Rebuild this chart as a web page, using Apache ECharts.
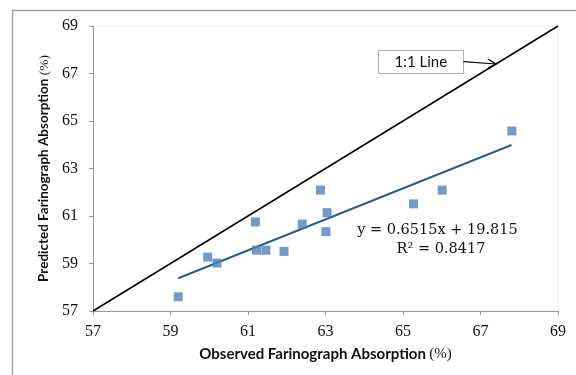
<!DOCTYPE html>
<html>
<head>
<meta charset="utf-8">
<script src="https://cdn.jsdelivr.net/npm/echarts@6/dist/echarts.min.js"></script>
<style>html,body{margin:0;padding:0;background:#fff;}#c{width:576px;height:375px;}</style>
</head>
<body>
<div id="c"></div>
<script>
var observed = [59.20, 59.96, 60.20, 61.19, 61.22, 61.46, 61.93, 62.40, 62.87, 63.04, 63.01, 65.27, 66.01, 67.81];
var predicted = [57.60, 59.27, 59.02, 60.75, 59.56, 59.56, 59.51, 60.66, 62.09, 61.14, 60.34, 61.51, 62.09, 64.58];
var oneToOneX = [57, 69];
var oneToOneY = [57, 69];
var trendX = [59.2, 67.8];
var trendY = [58.38, 63.99];
var axisTicks = [57, 59, 61, 63, 65, 67, 69];
var equationText = 'y = 0.6515x + 19.815';
var r2Text = 'R² = 0.8417';
var lineLabel = '1:1 Line';
var xTitle = 'Observed Farinograph Absorption';
var yTitle = 'Predicted Farinograph Absorption';

function zip(a, b) { return a.map(function (v, i) { return [v, b[i]]; }); }

var chart = echarts.init(document.getElementById('c'), null, {renderer: 'canvas'});
var serif = '"Liberation Serif", "Times New Roman", serif';
var wideSerif = '"DejaVu Serif", serif';
var sans = 'Lato, "Open Sans", sans-serif';

function axisCommon(name, gap, rotate, fs) {
  return {
    type: 'value', min: axisTicks[0], max: axisTicks[axisTicks.length - 1], interval: 2,
    name: '{b|' + name + '} {n|(%)}', nameLocation: 'middle', nameGap: gap, nameRotate: rotate,
    nameTextStyle: {
      rich: {
        b: {fontFamily: sans, fontWeight: 'bold', fontSize: fs, color: '#111'},
        n: {fontFamily: serif, fontSize: fs, color: '#111'}
      }
    },
    axisLine: {show: true, lineStyle: {color: '#9a9a9a', width: 1}},
    axisTick: {show: true, length: 4, lineStyle: {color: '#9a9a9a'}},
    axisLabel: {fontFamily: serif, fontSize: 16, color: '#111'},
    splitLine: {show: false}
  };
}

var xAxis = axisCommon(xTitle, 36, 0, 15);
xAxis.axisLabel.margin = 13;
var yAxis = axisCommon(yTitle, 41, 90, 13.5);
yAxis.axisLabel.margin = 15;

chart.setOption({
  animation: false,
  grid: {left: 93, right: 18, top: 26, bottom: 64, show: true, borderColor: '#f0efe2', borderWidth: 1},
  xAxis: xAxis,
  yAxis: yAxis,
  series: [
    {type: 'line', data: zip(oneToOneX, oneToOneY), symbol: 'none', lineStyle: {color: '#000', width: 1.5}, z: 2},
    {type: 'line', data: zip(trendX, trendY), symbol: 'none', lineStyle: {color: '#2A5B98', width: 2}, z: 3},
    {type: 'scatter', data: zip(observed, predicted), symbol: 'rect', symbolSize: 9, itemStyle: {color: '#4F81BD'}, z: 4}
  ]
});

// annotations placed in data coordinates
var eq = chart.convertToPixel({gridIndex: 0}, [65.89, 60.39]);
var r2 = chart.convertToPixel({gridIndex: 0}, [65.98, 59.61]);
var boxC = chart.convertToPixel({gridIndex: 0}, [65.46, 67.5]);
var arrowEnd = chart.convertToPixel({gridIndex: 0}, [67.4, 67.4]);
var boxW = 85, boxH = 23;
var boxX = boxC[0] - boxW / 2, boxY = boxC[1] - boxH / 2;
var ax0 = boxX + boxW, ay0 = boxC[1];

chart.setOption({
  graphic: [
    {type: 'rect', shape: {x: 12.5, y: 10.5, width: 620, height: 420}, style: {fill: 'none', stroke: '#a3a3a3', lineWidth: 1.5}, silent: true, z: 0},
    {type: 'text', x: eq[0], y: eq[1], style: {text: equationText, font: '14.5px ' + wideSerif, fill: '#111', align: 'center', verticalAlign: 'middle'}, z: 10},
    {type: 'text', x: r2[0], y: r2[1], style: {text: r2Text, font: '14.5px ' + wideSerif, fill: '#111', align: 'center', verticalAlign: 'middle'}, z: 10},
    {type: 'rect', shape: {x: Math.round(boxX) + 0.5, y: Math.round(boxY) + 0.5, width: boxW, height: boxH}, style: {fill: '#fff', stroke: '#b0b0b0', lineWidth: 1}, z: 10},
    {type: 'text', x: boxC[0], y: boxC[1] + 1, style: {text: lineLabel, font: '15px ' + sans, fill: '#111', align: 'center', verticalAlign: 'middle'}, z: 11},
    {type: 'polyline', shape: {points: [[ax0, ay0], arrowEnd]}, style: {stroke: '#000', lineWidth: 1.2, fill: 'none'}, z: 10},
    {type: 'polyline', shape: {points: [[arrowEnd[0] - 8, arrowEnd[1] - 5], arrowEnd, [arrowEnd[0] - 8, arrowEnd[1] + 4]]}, style: {stroke: '#000', lineWidth: 1.2, fill: 'none'}, z: 10}
  ]
});
</script>
</body>
</html>
